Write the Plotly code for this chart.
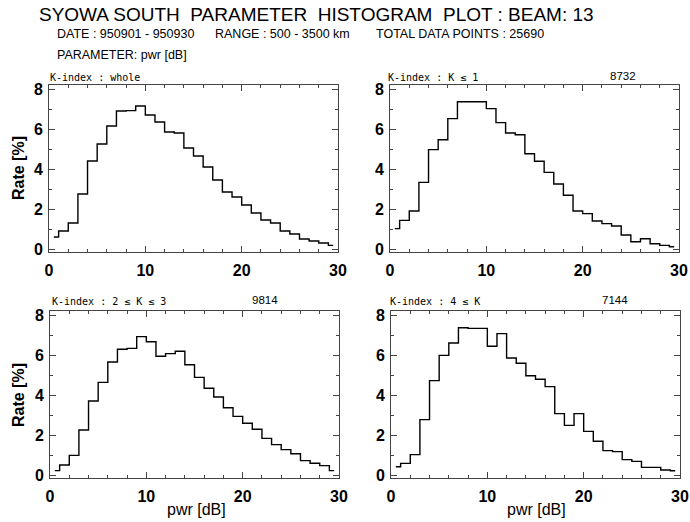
import plotly.graph_objects as go

# bin centres (1 dB bins)
pwr_centers = [k + 0.5 for k in range(30)]

rate_whole = [0.6, 0.9, 1.3, 2.75, 4.4, 5.25, 6.15, 6.9, 6.92, 7.15,
              6.7, 6.35, 5.85, 5.8, 5.05, 4.65, 4.1, 3.45, 2.85, 2.6,
              2.2, 1.8, 1.45, 1.3, 0.9, 0.75, 0.5, 0.4, 0.3, 0.18]
rate_k01 = [1.02, 1.43, 1.9, 3.33, 4.97, 5.46, 6.52, 7.36, 7.36, 7.36,
            7.02, 6.32, 5.8, 5.71, 4.76, 4.39, 3.83, 3.25, 2.69, 1.9,
            1.77, 1.4, 1.27, 1.15, 0.7, 0.36, 0.51, 0.26, 0.18, 0.11]
rate_k23 = [0.22, 0.5, 0.98, 2.25, 3.7, 4.63, 5.65, 6.29, 6.33, 6.92,
            6.66, 5.94, 6.07, 6.19, 5.51, 4.88, 4.34, 3.9, 3.36, 2.93,
            2.59, 2.29, 1.83, 1.52, 1.27, 1.06, 0.72, 0.59, 0.47, 0.22]
rate_k4 = [0.41, 0.58, 1.02, 2.77, 4.72, 5.98, 6.6, 7.36, 7.33, 7.33,
           6.44, 7.07, 5.85, 5.59, 4.96, 4.79, 4.42, 3.07, 2.48, 3.07,
           2.18, 1.69, 1.22, 1.17, 0.77, 0.68, 0.38, 0.38, 0.25, 0.21]

panel_labels = ["K-index : whole", "K-index : K ≤ 1", "K-index : 2 ≤ K ≤ 3", "K-index : 4 ≤ K"]
panel_counts = ["", "8732", "9814", "7144"]
x_ticks = [0, 10, 20, 30]
y_ticks = [0, 2, 4, 6, 8]

W, H = 690, 522
def px(x): return x / W
def py(y): return 1 - y / H

series = [rate_whole, rate_k01, rate_k23, rate_k4]
# pixel frames: (left, right, top, bottom)
frames = [(49, 338, 85, 252), (390, 679, 85, 252), (50, 339, 311, 478), (391, 680, 311, 478)]

fig = go.Figure()
FONT = "Liberation Sans"
MONO = "DejaVu Sans Mono"
for i, (vals, fr) in enumerate(zip(series, frames)):
    n = i + 1
    xa = "x" if n == 1 else f"x{n}"
    ya = "y" if n == 1 else f"y{n}"
    fig.add_trace(go.Scatter(x=pwr_centers, y=vals, mode="lines", line_shape="hvh",
                             line=dict(color="black", width=1.4), xaxis=xa, yaxis=ya,
                             showlegend=False))
    l, r, t, b = fr
    axcommon = dict(showline=True, linecolor="#444", linewidth=1, mirror="allticks",
                    ticks="inside", tickcolor="#444", showgrid=False, zeroline=False,
                    automargin=False,
                    tickfont=dict(family=FONT, size=16, color="black", weight="bold"))
    fig.layout[f"xaxis{'' if n == 1 else n}"] = dict(
        domain=[px(l), px(r)], anchor=ya, range=[0, 30], tickvals=x_ticks,
        ticklen=6, minor=dict(ticks="inside", dtick=2, ticklen=3, tickcolor="#444"),
        ticklabelstandoff=4, **axcommon)
    fig.layout[f"yaxis{'' if n == 1 else n}"] = dict(
        domain=[py(b), py(t)], anchor=xa, range=[-0.15, 8.2], tickvals=y_ticks,
        ticklen=6, minor=dict(ticks="inside", dtick=1, ticklen=3, tickcolor="#444"),
        ticklabelstandoff=2, **axcommon)

ann = []
def txt(x, y, s, size, anchor="left", angle=0, weight="normal", family=FONT):
    ann.append(dict(x=px(x), y=py(y), xref="paper", yref="paper", text=s, showarrow=False,
                    xanchor=anchor, yanchor="middle", textangle=angle,
                    font=dict(family=family, size=size, color="black", weight=weight)))

txt(37, 14, "SYOWA SOUTH  PARAMETER  HISTOGRAM  PLOT : BEAM: 13", 19)
txt(55, 34, "DATE : 950901 - 950930", 12.5)
txt(213, 34, "RANGE : 500 - 3500 km", 12.5)
txt(374, 34, "TOTAL DATA POINTS : 25690", 12.5)
txt(55, 55, "PARAMETER: pwr [dB]", 12.5)

label_pos = [(48, 77), (386, 77), (50, 301), (388, 301)]
count_pos = [None, (608, 76), (250, 300), (600, 300)]
for lab, (x, y) in zip(panel_labels, label_pos):
    txt(x, y, lab, 10, family=MONO)
for c, p in zip(panel_counts, count_pos):
    if p:
        txt(p[0], p[1], c, 11.5)

txt(18, 168, "Rate [%]", 16, anchor="center", angle=-90, weight="bold")
txt(18, 395, "Rate [%]", 16, anchor="center", angle=-90, weight="bold")
txt(196, 509, "pwr [dB]", 16, anchor="center")
txt(536, 509, "pwr [dB]", 16, anchor="center")

fig.update_layout(width=W, height=H, margin=dict(l=0, r=0, t=0, b=0),
                  paper_bgcolor="white", plot_bgcolor="white", annotations=ann)
fig.write_html("out.html", config={"displayModeBar": False},
               post_script="document.body.style.margin='0';document.body.style.overflow='hidden';")
